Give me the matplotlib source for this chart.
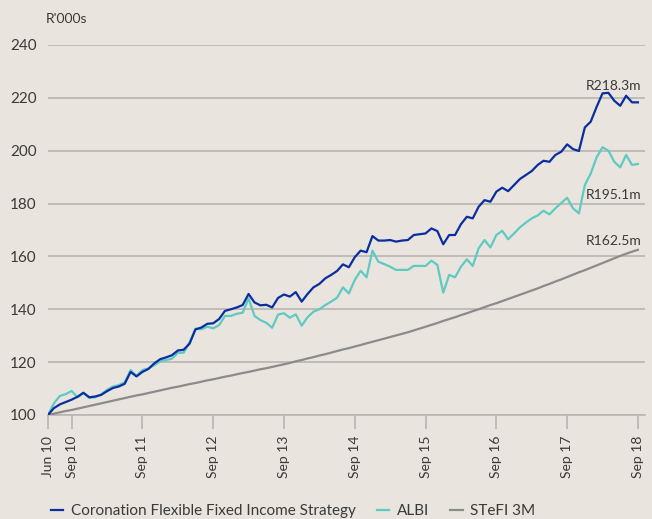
import numpy as np
import matplotlib
matplotlib.use('Agg')
import matplotlib.pyplot as plt

# monthly index values, Jun 2010 = 100 (R'000s)
coronation = [100.0, 102.6, 104.0, 104.9, 105.8, 106.9, 108.4, 106.7, 107.0, 107.6,
              109.0, 110.2, 110.8, 111.8, 116.3, 114.6, 116.3, 117.4, 119.5, 121.1,
              121.8, 122.6, 124.4, 124.7, 127.0, 132.4, 133.1, 134.5, 134.7, 136.3,
              139.4, 140.0, 140.7, 141.6, 145.8, 142.6, 141.5, 141.7, 140.7, 144.3,
              145.6, 144.8, 146.5, 142.9, 145.8, 148.3, 149.6, 151.7, 153.0, 154.5,
              157.0, 155.9, 159.7, 162.2, 161.6, 167.7, 166.0, 166.0, 166.2, 165.6,
              166.0, 166.2, 168.1, 168.4, 168.7, 170.6, 169.6, 164.6, 168.1, 168.1,
              172.2, 175.0, 174.4, 178.8, 181.3, 180.7, 184.5, 186.0, 184.7, 187.0,
              189.3, 190.8, 192.3, 194.6, 196.2, 195.8, 198.4, 199.6, 202.4, 200.6,
              199.9, 208.8, 211.0, 216.6, 221.7, 221.9, 218.9, 217.0, 220.8, 218.3,
              218.3]
albi = [100.0, 104.4, 107.2, 107.9, 109.1, 106.7, 108.4, 106.5, 106.7, 107.8,
        109.5, 110.8, 111.3, 112.4, 117.0, 114.8, 117.0, 117.6, 118.8, 120.3,
        120.8, 121.3, 123.5, 123.6, 127.5, 132.7, 132.4, 133.4, 132.8, 134.0,
        137.5, 137.5, 138.3, 138.7, 144.1, 137.5, 135.9, 134.9, 133.0, 138.0,
        138.5, 136.8, 138.1, 133.8, 137.0, 139.1, 140.0, 141.6, 142.9, 144.4,
        148.3, 146.0, 151.1, 154.6, 152.1, 162.2, 158.0, 157.1, 156.1, 154.9,
        154.9, 154.9, 156.4, 156.4, 156.4, 158.4, 156.8, 146.3, 153.0, 152.1,
        156.1, 158.9, 156.4, 163.1, 166.2, 163.4, 168.1, 169.7, 166.5, 168.7,
        171.0, 172.8, 174.4, 175.5, 177.3, 175.9, 178.2, 180.2, 182.2, 178.2,
        176.3, 187.0, 191.4, 197.5, 201.3, 200.0, 195.8, 193.7, 198.4, 194.6,
        195.0]
stefi = [100.0, 100.5, 101.0, 101.5, 101.9, 102.4, 102.9, 103.4, 103.9, 104.4,
         104.9, 105.4, 105.9, 106.4, 106.9, 107.4, 107.8, 108.3, 108.8, 109.3,
         109.8, 110.3, 110.7, 111.2, 111.7, 112.1, 112.6, 113.1, 113.5, 114.0,
         114.5, 114.9, 115.4, 115.9, 116.3, 116.8, 117.3, 117.7, 118.2, 118.7,
         119.2, 119.7, 120.3, 120.8, 121.4, 121.9, 122.5, 123.0, 123.6, 124.2,
         124.8, 125.3, 125.9, 126.5, 127.1, 127.7, 128.3, 128.9, 129.5, 130.1,
         130.7, 131.3, 132.0, 132.7, 133.4, 134.1, 134.8, 135.6, 136.3, 137.0,
         137.8, 138.5, 139.3, 140.0, 140.8, 141.6, 142.3, 143.1, 143.9, 144.7,
         145.5, 146.3, 147.1, 147.9, 148.8, 149.6, 150.5, 151.3, 152.2, 153.1,
         154.0, 154.8, 155.7, 156.6, 157.5, 158.4, 159.3, 160.2, 161.0, 161.8,
         162.5]

tick_pos = [0, 4, 16, 28, 40, 52, 64, 76, 88, 100]
tick_labels = ['Jun 10', 'Sep 10', 'Sep 11', 'Sep 12', 'Sep 13',
               'Sep 14', 'Sep 15', 'Sep 16', 'Sep 17', 'Sep 18']
end_labels = ['R218.3m', 'R195.1m', 'R162.5m']

bg = '#e9e5de'
txt = '#3a3a3a'
gridc = '#b8b6b2'

plt.rcParams['font.family'] = ['Lato', 'DejaVu Sans']

fig = plt.figure(figsize=(6.52, 5.19), dpi=100, facecolor=bg)
ax = fig.add_axes([48 / 652, 1 - 415 / 519, (645 - 48) / 652, (415 - 45) / 519])
ax.set_facecolor(bg)

x = np.arange(len(coronation))
ax.plot(x, stefi, color='#8c8b8b', lw=1.6, label='STeFI 3M', zorder=3)
ax.plot(x, albi, color='#5ecac2', lw=1.6, label='ALBI', zorder=4)
ax.plot(x, coronation, color='#0a2ea0', lw=1.6,
        label='Coronation Flexible Fixed Income Strategy', zorder=5)

ax.set_xlim(0, 101.2)
ax.set_ylim(100, 240)
ax.set_yticks(np.arange(100, 241, 20))
ax.yaxis.grid(True, color=gridc, lw=1.2)
ax.set_axisbelow(True)
for s in ['top', 'right', 'left']:
    ax.spines[s].set_visible(False)
ax.spines['bottom'].set_color(gridc)
ax.spines['bottom'].set_linewidth(1.2)
ax.tick_params(axis='y', length=0, pad=8, labelsize=11, labelcolor=txt)
ax.set_xticks(tick_pos)
ax.set_xticklabels(tick_labels, rotation=90, fontsize=10, color=txt)
ax.tick_params(axis='x', length=10, width=1.2, color=gridc, pad=5)

fig.text(46 / 652, 1 - 19 / 519, "R'000s", fontsize=10, color=txt, va='center')

ax.text(100.6, 224.5, end_labels[0], ha='right', va='center', fontsize=10, color=txt)
ax.text(100.6, 183.3, end_labels[1], ha='right', va='center', fontsize=10, color=txt)
ax.text(100.6, 166.0, end_labels[2], ha='right', va='center', fontsize=10, color=txt)

h, l = ax.get_legend_handles_labels()
leg = fig.legend(h[::-1], l[::-1], loc='center left', bbox_to_anchor=(37 / 652, 1 - 511 / 519),
                 ncol=3, frameon=False, fontsize=11, handlelength=0.8,
                 handletextpad=0.5, columnspacing=1.4, labelcolor=txt)

fig.savefig('out.png', dpi=100, facecolor=bg)
